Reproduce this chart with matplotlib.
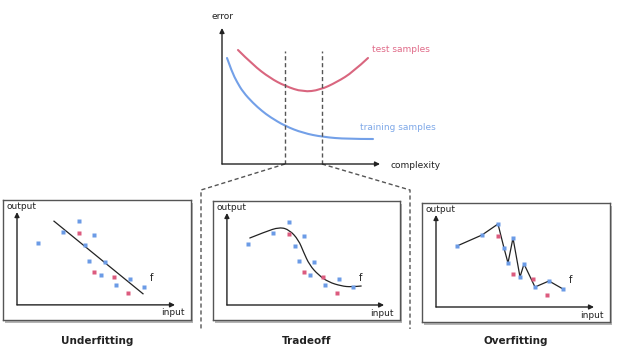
import numpy as np
import matplotlib
matplotlib.use('Agg')
import matplotlib.pyplot as plt
import matplotlib.patheffects as pe
from matplotlib.path import Path
from matplotlib.patches import PathPatch

# error curves (top diagram), complexity / error in arbitrary units
test_complexity = [16, 31, 48, 63, 81, 98, 115, 131, 146]
test_error = [114, 99, 86, 78, 72, 74, 82, 92, 106]
train_complexity = [5, 10, 15, 21, 31, 40, 48, 63, 81, 101, 125, 151]
train_error = [106, 92, 82, 72, 61, 53, 47, 38, 31, 27, 25, 25]
tradeoff_bounds = [63, 100]

# samples shared by the three bottom panels
blue_input = [21, 46, 62, 77, 68, 72, 88, 84, 99, 113, 127]
blue_output = [61, 72, 83, 69, 59, 44, 43, 30, 20, 26, 18]
red_input = [62, 77, 97, 111]
red_output = [71, 33, 28, 12]

# fitted functions
underfit_x = [37, 126]
underfit_y = [83, 11]
tradeoff_x = [23, 38, 53, 63, 72, 77, 83, 92, 102, 115, 125, 135]
tradeoff_y = [67, 73, 78, 75, 65, 53, 40, 30, 23, 19, 18, 19]

captions = ["Underfitting", "Tradeoff", "Overfitting"]

BLUE = '#6b9be6'
RED = '#dc5b7e'
DARK = '#222222'

W, H = 619, 347
fig = plt.figure(figsize=(W / 100, H / 100), dpi=100)


def px_axes(x0, y0, x1, y1):
  return fig.add_axes([x0 / W, 1 - y1 / H, (x1 - x0) / W, (y1 - y0) / H])


def arrow(ax, x0, y0, x1, y1):
  ax.annotate('', xy=(x1, y1), xytext=(x0, y0), annotation_clip=False,
              arrowprops=dict(arrowstyle='-|>', color=DARK, lw=1,
                              mutation_scale=7, shrinkA=0, shrinkB=0))


def smooth(ax, xs, ys, **kw):
  # quadratic bezier through the read points (points act as control points)
  pts = np.column_stack([xs, ys]).astype(float)
  verts = [pts[0]]
  codes = [Path.MOVETO]
  for k in range(1, len(pts) - 1):
    verts += [pts[k], (pts[k] + pts[k + 1]) / 2 if k < len(pts) - 2 else pts[k + 1]]
    codes += [Path.CURVE3, Path.CURVE3]
  ax.add_patch(PathPatch(Path(verts, codes), fill=False, capstyle='round', **kw))


# guide lines linking the top diagram to the tradeoff region
gd = fig.add_axes([0, 0, 1, 1], zorder=0)
gd.set_xlim(0, W)
gd.set_ylim(H, 0)
gd.axis('off')
dash = dict(color='#555555', lw=1, linestyle=(0, (3, 2)))
gd.plot([285, 201, 201], [164, 190, 329], **dash)
gd.plot([322, 410, 410], [164, 190, 329], **dash)

# top diagram
ax = px_axes(222, 28, 380, 164)
ax.set_xlim(0, 158)
ax.set_ylim(0, 136)
ax.axis('off')
arrow(ax, 0, 0, 0, 136)
arrow(ax, 0, 0, 158, 0)
smooth(ax, test_complexity, test_error, edgecolor='#d9667f', lw=1.5)
smooth(ax, train_complexity, train_error, edgecolor='#73a0e8', lw=1.5)
ax.vlines(tradeoff_bounds, 0, 113, **dash)
ax.text(-10, 148, "error", fontsize=6.5, ha='left', va='center', color=DARK)
ax.text(168, -1, "complexity", fontsize=6.5, ha='left', va='center', color=DARK)
ax.text(150, 115, "test samples", fontsize=6.5, ha='left', va='center', color='#e06a88')
ax.text(138, 37, "training samples", fontsize=6.5, ha='left', va='center', color='#7ea8e8')

# bottom panels
boxes = [(3, 200, 191, 320), (213, 201, 400, 320), (422, 203, 610, 322)]
for i, (x0, y0, x1, y1) in enumerate(boxes):
  bx = px_axes(x0, y0, x1, y1)
  bx.set_xlim(-14, 174)
  bx.set_ylim(-15, 104)
  bx.set_xticks([])
  bx.set_yticks([])
  for s in bx.spines.values():
    s.set_color('#555555')
    s.set_linewidth(1)
  bx.patch.set_path_effects([pe.SimplePatchShadow(offset=(1.5, -2.5), shadow_rgbFace='0.35', alpha=0.45),
                             pe.Normal()])
  arrow(bx, 0, 0, 0, 92)
  arrow(bx, 0, 0, 158, 0)
  bx.text(-10, 98, "output", fontsize=6.5, ha='left', va='center', color=DARK)
  bx.text(168, -8, "input", fontsize=6.5, ha='right', va='center', color=DARK)
  bx.text(133, 27, "f", fontsize=7, ha='left', va='center', color=DARK)

  if i == 0:
    bx.plot(underfit_x, underfit_y, color=DARK, lw=0.9)
  elif i == 1:
    smooth(bx, tradeoff_x, tradeoff_y, edgecolor=DARK, lw=0.9)
  else:
    order = np.argsort(blue_input)
    bx.plot(np.array(blue_input)[order], np.array(blue_output)[order], color=DARK, lw=0.9)

  bx.plot(blue_input, blue_output, 's', color=BLUE, ms=3, mec='none', zorder=3)
  bx.plot(red_input, red_output, 's', color=RED, ms=3, mec='none', zorder=3)

  fig.text(((x0 + x1) / 2) / W, 1 - 341 / H, captions[i], fontsize=7.5,
           fontweight='bold', ha='center', va='center', color=DARK)

fig.savefig('out.png', dpi=100)
